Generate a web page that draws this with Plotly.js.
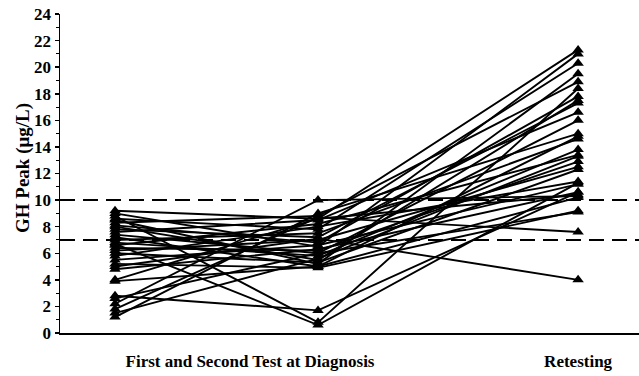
<!DOCTYPE html>
<html>
<head>
<meta charset="utf-8">
<script src="https://cdn.plot.ly/plotly-3.0.1.min.js"></script>
<style>html,body{margin:0;padding:0;background:#fff;}#chart{width:639px;height:376px;}</style>
</head>
<body>
<div id="chart"></div>
<script>
// GH peak (µg/L) per patient: first test, second test (at diagnosis), retesting
const firstTest  = [9.2, 9.0, 8.8, 8.6, 8.5, 8.3, 8.1, 8.0, 7.8, 7.6, 7.4, 7.2, 7.0, 6.8, 6.6, 6.4, 6.2, 6.0, 5.8, 5.5, 5.2, 5.0, 4.8, 4.0, 3.9, 2.8, 2.6, 2.2, 1.8, 1.5, 1.2, 6.7];
const secondTest = [8.6, 6.5, 0.8, 7.8, 5.2, 8.8, 6.8, 5.5, 7.2, 8.5, 6.0, 5.0, 7.5, 5.8, 8.2, 6.2, 7.0, 5.3, 8.0, 6.6, 4.9, 7.1, 6.3, 8.6, 5.0, 1.7, 6.0, 10.0, 8.7, 5.6, 9.0, 0.6];
const retesting  = [21.3, 21.0, 18.4, 20.3, 19.5, 18.9, 17.8, 17.5, 17.3, 16.6, 16.0, 14.8, 14.6, 13.8, 13.4, 12.9, 12.5, 12.3, 11.4, 11.2, 9.2, 4.0, 10.6, 10.4, 10.2, 10.6, 9.1, 10.3, 7.6, 13.3, 15.0, 11.3];
const groupLabels = ["First and Second Test at Diagnosis", "Retesting"];
const yTicks = [0, 2, 4, 6, 8, 10, 12, 14, 16, 18, 20, 22, 24];
const cutoffs = [10, 7];
const yTitle = 'GH Peak (μg/L)';

// horizontal positions of the three measurements
const xPos = [0, 1, 2.281];
const labelPos = [0.665, 2.281];

const xs = [], ys = [];
for (let i = 0; i < firstTest.length; i++) {
  xs.push(xPos[0], xPos[1], xPos[2], null);
  ys.push(firstTest[i], secondTest[i], retesting[i], null);
}

const fam = '"Liberation Serif", "Times New Roman", serif';

const data = [{
  type: 'scatter', mode: 'lines+markers',
  x: xs, y: ys, connectgaps: false,
  line: {color: '#000', width: 1.9},
  marker: {symbol: 'triangle-up', size: 10, color: '#000'},
  hoverinfo: 'skip', cliponaxis: false
}];

const shapes = cutoffs.map(v => ({
  type: 'line', xref: 'paper', x0: 0, x1: 1, yref: 'y', y0: v, y1: v,
  line: {color: '#000', width: 2, dash: '15px,8px'}
}));

const layout = {
  width: 639, height: 376,
  margin: {l: 60, r: 0, t: 14, b: 43},
  paper_bgcolor: '#fff', plot_bgcolor: '#fff',
  showlegend: false,
  font: {family: fam, size: 16, color: '#000', weight: 'bold'},
  xaxis: {
    range: [-0.271, 2.581], showgrid: false, zeroline: false,
    showline: true, linecolor: '#000', linewidth: 2,
    tickvals: labelPos, ticktext: groupLabels,
    ticks: '', ticklabelstandoff: 12,
    tickfont: {family: fam, size: 17, color: '#000', weight: 'bold'}
  },
  yaxis: {
    range: [0, 24], showgrid: false, zeroline: false,
    showline: true, linecolor: '#000', linewidth: 1.5,
    tickvals: yTicks, ticktext: yTicks.map(String),
    ticks: 'outside', ticklen: 4, tickwidth: 1.5, tickcolor: '#000',
    minor: {dtick: 1, ticks: 'outside', ticklen: 3, tickwidth: 1, tickcolor: '#000'},
    tickfont: {family: fam, size: 17, color: '#000', weight: 'bold'},
    ticklabelstandoff: 0
  },
  annotations: [{
    text: yTitle, xref: 'paper', yref: 'paper', x: -0.064, y: 0.517,
    xanchor: 'center', yanchor: 'middle', textangle: -90, showarrow: false,
    font: {family: fam, size: 19, color: '#000', weight: 'bold'}
  }],
  shapes: shapes
};

Plotly.newPlot('chart', data, layout, {staticPlot: true, displayModeBar: false});
</script>
</body>
</html>
